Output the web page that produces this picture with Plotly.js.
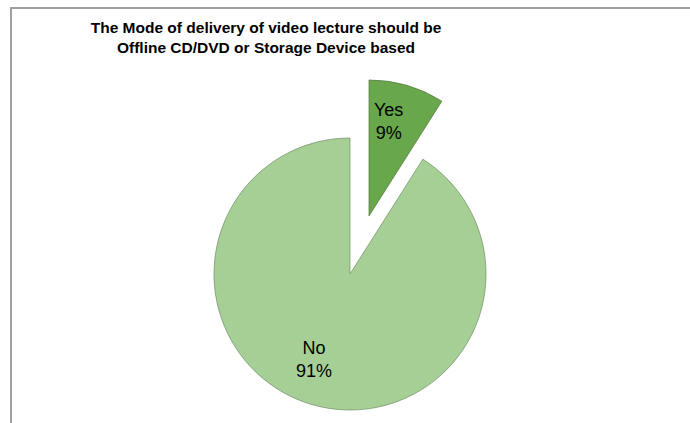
<!DOCTYPE html>
<html>
<head>
<meta charset="utf-8">
<script src="https://cdn.plot.ly/plotly-3.0.1.min.js"></script>
<style>
html,body{margin:0;padding:0;background:#fff;}
#chart{width:690px;height:423px;}
</style>
</head>
<body>
<div id="chart"></div>
<script>
// Data
var categories = ['Yes', 'No'];
var shares = [9, 91];
var chartTitle = 'The Mode of delivery of video lecture should be<br>Offline CD/DVD or Storage Device based';

var W = 690, H = 423;
function dom(cx, cy, r) {
  return {
    x: [(cx - r) / W, (cx + r) / W],
    y: [1 - (cy + r) / H, 1 - (cy - r) / H]
  };
}
var R = 136;
var lblFont = {family: 'Liberation Sans, Arial, sans-serif', size: 18, color: '#000'};
var total = shares.reduce(function (a, b) { return a + b; }, 0);
function lbl(i) { return categories[i] + '<br>' + Math.round(shares[i] / total * 100) + '%'; }

var traceNo = {
  type: 'pie',
  labels: categories,
  values: shares,
  sort: false,
  direction: 'clockwise',
  rotation: 0,
  domain: dom(350, 274, R),
  marker: {
    colors: ['rgba(0,0,0,0)', '#a6cf95'],
    line: {color: ['rgba(0,0,0,0)', 'rgba(110,140,100,0.7)'], width: [0, 1]}
  },
  textinfo: 'none',
  hoverinfo: 'skip',
  showlegend: false
};
var traceYes = {
  type: 'pie',
  labels: categories,
  values: shares,
  sort: false,
  direction: 'clockwise',
  rotation: 0,
  domain: dom(369, 216, R),
  marker: {
    colors: ['#68a74b', 'rgba(0,0,0,0)'],
    line: {color: ['rgba(80,120,60,0.7)', 'rgba(0,0,0,0)'], width: [1, 0]}
  },
  textinfo: 'none',
  hoverinfo: 'skip',
  showlegend: false
};

var layout = {
  width: W, height: H,
  margin: {l: 0, r: 0, t: 0, b: 0},
  paper_bgcolor: '#fff',
  title: {
    text: chartTitle,
    font: {family: 'Liberation Sans, Arial, sans-serif', size: 15.5, color: '#000', weight: 'bold'},
    x: 266 / W, xanchor: 'center', xref: 'paper',
    y: 1 - 33 / H, yanchor: 'middle', yref: 'container'
  },
  annotations: [
    {text: lbl(0), x: 388 / W, y: 1 - 121 / H, xref: 'paper', yref: 'paper',
     xanchor: 'center', yanchor: 'middle', showarrow: false, font: lblFont},
    {text: lbl(1), x: 314 / W, y: 1 - 359 / H, xref: 'paper', yref: 'paper',
     xanchor: 'center', yanchor: 'middle', showarrow: false, font: lblFont}
  ],
  shapes: [{
    type: 'rect', xref: 'paper', yref: 'paper',
    x0: 11 / W, x1: 1.02, y0: -0.02, y1: 1 - 8 / H,
    line: {color: '#a0a0a0', width: 2}, fillcolor: 'rgba(0,0,0,0)'
  }]
};

Plotly.newPlot('chart', [traceNo, traceYes], layout, {displayModeBar: false, staticPlot: true});
</script>
</body>
</html>
